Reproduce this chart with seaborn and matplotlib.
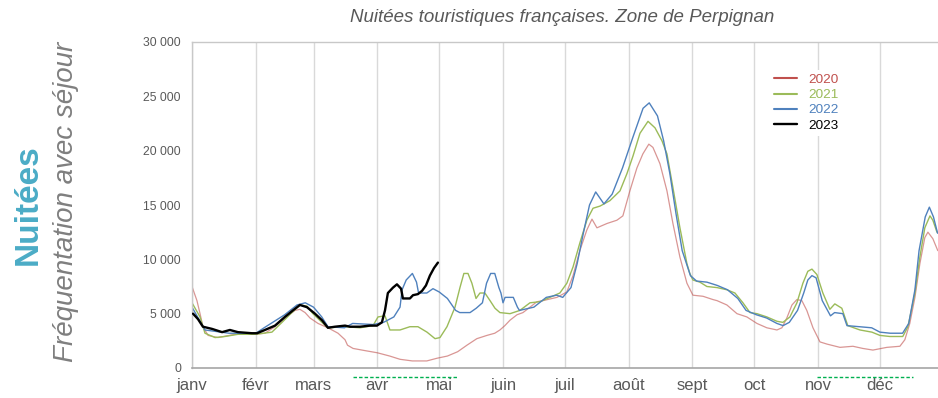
import matplotlib
matplotlib.use("Agg")
import matplotlib.pyplot as plt
import matplotlib.ticker as mticker
import matplotlib.transforms as mtransforms
import seaborn as sns
import pandas as pd

# Day of year (0 = 1 Jan) and nightly stays for each season
days_2020 = [0, 2.4, 3.9, 5.3, 7.8, 12.6, 20.9, 30.6, 35.4, 40.3, 45.1, 50, 52.4, 54.9, 57.3,
             61.2, 66, 70.9, 74.3, 75.5, 78.2, 84, 90, 96, 101, 107, 114, 119, 124, 129,
             133.5, 138.3, 143.2, 147, 149.5, 151.9, 154.4, 157.8, 160.7, 164.1, 167.5,
             170.4, 177.2, 182, 185, 188.3, 191.7, 194.2, 196.6, 201.5, 206.3, 209.2,
             212.6, 216, 218.9, 221.8, 223.8, 227.2, 230.6, 233.5, 236.9, 240.3, 243.2,
             248.1, 252.9, 254.9, 259.7, 264.6, 269.4, 274.3, 279.1, 284, 286.4, 288.8,
             291.3, 293.7, 296.1, 298.5, 301.5, 304.9, 308.3, 314.6, 320.9, 325.7, 330.6,
             337.4, 343.7, 346.1, 348.5, 351, 353.4, 355.8, 357.3, 359.7, 362.1]
vals_2020 = [7500, 6200, 5000, 3800, 3000, 2800, 3100, 3100, 3200, 3800, 4600, 5300, 5400, 5100, 4600,
             4100, 3700, 3200, 2600, 2100, 1800, 1600, 1400, 1100, 800, 650, 650, 900, 1100, 1500,
             2100, 2700, 3000, 3200, 3500, 3900, 4400, 4900, 5100, 5600, 6100,
             6200, 6500, 7000, 8500, 10800, 12700, 13700, 12900, 13300, 13600, 14000,
             16300, 18400, 19700, 20600, 20300, 18800, 16300, 13300, 10200, 7800, 6700,
             6600, 6300, 6200, 5800, 5000, 4700, 4100, 3700, 3500, 3700, 4600,
             5800, 6300, 6200, 5300, 3700, 2400, 2200, 1900, 2000, 1800, 1650,
             1900, 2000, 2600, 4100, 6500, 9600, 12000, 12500, 11900, 10800]

days_2021 = [0, 3.9, 6.3, 11.2, 16, 22.3, 30.6, 38.8, 43.7, 48.5, 52.4, 55.8, 58.7, 63.1, 66,
             74.3, 81.6, 87.9, 90.3, 93.7, 96.1, 101, 105.8, 109.7, 114.1, 118, 120.4, 123.8,
             127.7, 130.1, 132, 134, 135.9, 137.9, 139.8, 142.2, 144.7, 147.1, 149.5, 154.4,
             159.2, 164.1, 168.9, 173.8, 178.6, 182, 185, 188.3, 191.7, 194.7, 198.1, 202.9,
             207.8, 211.2, 214.1, 217.5, 221.4, 224.8, 228.2, 230.6, 233.5, 236.9, 240.3,
             241.7, 243.2, 246.6, 250, 254.9, 259.7, 263.6, 267.5, 270.9, 274.3, 279.1, 284,
             286.9, 290.3, 293.7, 296.6, 299, 301, 303.4, 306.3, 309.7, 312.1, 315.5, 318.4,
             324.3, 330.1, 334, 338.8, 345.1, 347.6, 351, 353.4, 355.8, 358.3, 359.7, 361.7]
vals_2021 = [6000, 4700, 3200, 2800, 2900, 3100, 3100, 3300, 4200, 5100, 5800, 5700, 5000, 4200, 3700,
             3800, 3700, 3900, 4700, 4800, 3500, 3500, 3800, 3800, 3300, 2700, 2800, 3800,
             5600, 7400, 8700, 8700, 7800, 6400, 6900, 6900, 6200, 5500, 5100, 5000,
             5300, 6000, 6100, 6500, 6900, 7800, 9300, 11500, 13600, 14700, 14900, 15400,
             16300, 17900, 19500, 21600, 22700, 22100, 20900, 19700, 16600, 12900, 9600,
             8700, 8100, 7900, 7500, 7400, 7200, 6900, 6000, 5100, 5000, 4700, 4300,
             4200, 4700, 6000, 7800, 8900, 9100, 8600, 6900, 5400, 5900, 5500, 3900,
             3500, 3300, 3000, 2900, 2900, 3800, 6900, 10200, 12900, 14000, 13600, 12500]

days_2022 = [0, 6.3, 18, 31, 35, 45, 51, 55, 59, 63, 66, 74, 78, 88, 93, 98, 101, 102, 104,
             107, 109, 110, 114, 117, 120, 124, 128, 130, 135, 138, 141, 143, 145, 147, 149,
             150, 151, 152, 156, 158, 159, 166, 172, 177, 180, 184, 187, 190, 193, 196, 200,
             204, 209, 214, 219, 222, 226, 229, 232, 235, 238, 242, 245, 250, 255, 260, 265,
             269, 274, 279, 284, 287, 290, 294, 297, 299, 301, 303, 306, 310, 312, 316, 318,
             324, 330, 334, 339, 345, 348, 351, 353, 356, 358, 360, 362]
vals_2022 = [5600, 3500, 3200, 3200, 3700, 4900, 5800, 6000, 5600, 4700, 3800, 3700, 4100, 4000,
             4200, 4700, 5600, 7200, 8100, 8700, 7900, 6900, 6900, 7300, 7000, 6400, 5300, 5100,
             5100, 5500, 6000, 7800, 8700, 8700, 7400, 6900, 6000, 6500, 6500, 5600, 5300, 5600,
             6500, 6700, 6500, 7400, 9600, 12400, 15000, 16200, 15100, 16000, 18400, 21200, 23900,
             24400, 23200, 20900, 17900, 14200, 10800, 8500, 8000, 7900, 7600, 7200, 6400, 5300,
             4900, 4600, 4100, 3900, 4200, 5300, 6900, 8100, 8500, 8300, 6200, 4800, 5100, 5000,
             3900, 3800, 3700, 3300, 3200, 3200, 4100, 7200, 10800, 13900, 14800, 13900, 12400]

days_2023 = [0.5, 2.9, 5.3, 9.7, 14.6, 18.4, 22.3, 29.1, 31.6, 35.4, 40.3, 45.1, 49, 52.4, 55.8,
             59.7, 63.1, 66, 69.4, 74.3, 76.7, 81.6, 86.4, 89.8, 92.2, 93.7, 95.1, 97.6, 99.5,
             101.5, 102.4, 105.8, 107.3, 109.7, 111.7, 113.6, 115.5, 117.5, 119.4]
vals_2023 = [5000, 4500, 3800, 3600, 3300, 3500, 3300, 3200, 3200, 3500, 3900, 4700, 5300, 5800, 5600,
             5000, 4400, 3700, 3800, 3900, 3800, 3800, 3900, 3900, 4200, 5300, 6900, 7400, 7700,
             7300, 6400, 6400, 6700, 6800, 7100, 7600, 8500, 9200, 9700]

years = ["2020", "2021", "2022", "2023"]
colors = {"2020": "#c0504d", "2021": "#9bbb59", "2022": "#4f81bd", "2023": "#000000"}
widths = {"2020": 0.9, "2021": 1.0, "2022": 1.0, "2023": 1.7}
alphas = {"2020": 0.6, "2021": 1.0, "2022": 1.0, "2023": 1.0}

month_starts = [0, 31, 59, 90, 120, 151, 181, 212, 243, 273, 304, 334]
month_labels = ["janv", "févr", "mars", "avr", "mai", "juin", "juil", "août", "sept", "oct", "nov", "déc"]

# School holiday periods marked under the axis (day of year)
holidays = [(78, 129), (303.5, 350)]

series = {
    "2020": (days_2020, vals_2020),
    "2021": (days_2021, vals_2021),
    "2022": (days_2022, vals_2022),
    "2023": (days_2023, vals_2023),
}
df = pd.concat(
    [pd.DataFrame({"jour": d, "nuitees": v, "annee": y}) for y, (d, v) in series.items()],
    ignore_index=True,
)

sns.set_theme(style="white")
plt.rcParams["font.family"] = ["Liberation Sans", "DejaVu Sans"]

fig = plt.figure(figsize=(9.38, 3.98), dpi=100)
ax = fig.add_axes([192 / 938, 30 / 398, 746 / 938, 326 / 398])

for y in years:
    sub = df[df["annee"] == y]
    sns.lineplot(data=sub, x="jour", y="nuitees", ax=ax, color=colors[y],
                 linewidth=widths[y], alpha=alphas[y], label=y, sort=False,
                 estimator=None, zorder=3 if y == "2023" else 2)

ax.set_xlim(0, 362.2)
ax.set_ylim(0, 30000)
ax.set_xlabel("")
ax.set_ylabel("")

ax.set_xticks(month_starts)
ax.set_xticklabels(month_labels)
ax.set_yticks(range(0, 30001, 5000))
ax.yaxis.set_major_formatter(mticker.FuncFormatter(lambda v, p: f"{int(v):,}".replace(",", " ")))
ax.tick_params(axis="x", length=0, pad=7, labelsize=12, labelcolor="#595959")
ax.tick_params(axis="y", length=0, pad=8, labelsize=8.7, labelcolor="#595959")

ax.grid(axis="x", color="#d9d9d9", linewidth=1)
ax.grid(axis="y", visible=False)
ax.set_axisbelow(True)

for side in ["left", "top"]:
    ax.spines[side].set_color("#c8c8c8")
    ax.spines[side].set_linewidth(1)
ax.spines["bottom"].set_color("#a6a6a6")
ax.spines["bottom"].set_linewidth(1.2)
ax.spines["right"].set_visible(False)

# holiday markers just under the x axis
trans = mtransforms.blended_transform_factory(ax.transData, ax.transAxes)
for start, end in holidays:
    ax.plot([start, end], [-0.028, -0.028], transform=trans, color="#00b050",
            linewidth=1, linestyle=(0, (2.5, 1.5)), clip_on=False)

leg = ax.legend(loc="upper left", bbox_to_anchor=(0.775, 0.915), fontsize=9.7,
                frameon=True, facecolor="white", edgecolor="none", framealpha=1,
                handlelength=1.7, handletextpad=0.8, labelspacing=0.2, borderpad=0.3,
                borderaxespad=0, labelcolor="linecolor")
for h in leg.legend_handles:
    h.set_alpha(1)
    h.set_linewidth(1.5 if h.get_label() != "2023" else 1.7)
for t, y in zip(leg.get_texts(), years):
    t.set_color(colors[y])

fig.text(562 / 938, 1 - 18 / 398, "Nuitées touristiques françaises. Zone de Perpignan",
         ha="center", va="center", style="italic", fontsize=13.5, color="#595959")
fig.text(28 / 938, 1 - 205 / 398, "Nuitées", rotation=90, ha="center", va="center",
         fontsize=24, fontweight="bold", color="#4bacc6")
fig.text(66 / 938, 1 - 202 / 398, "Fréquentation avec séjour", rotation=90, ha="center",
         va="center", fontsize=20, style="italic", color="#7f7f7f")

fig.savefig("out.png", dpi=100)
